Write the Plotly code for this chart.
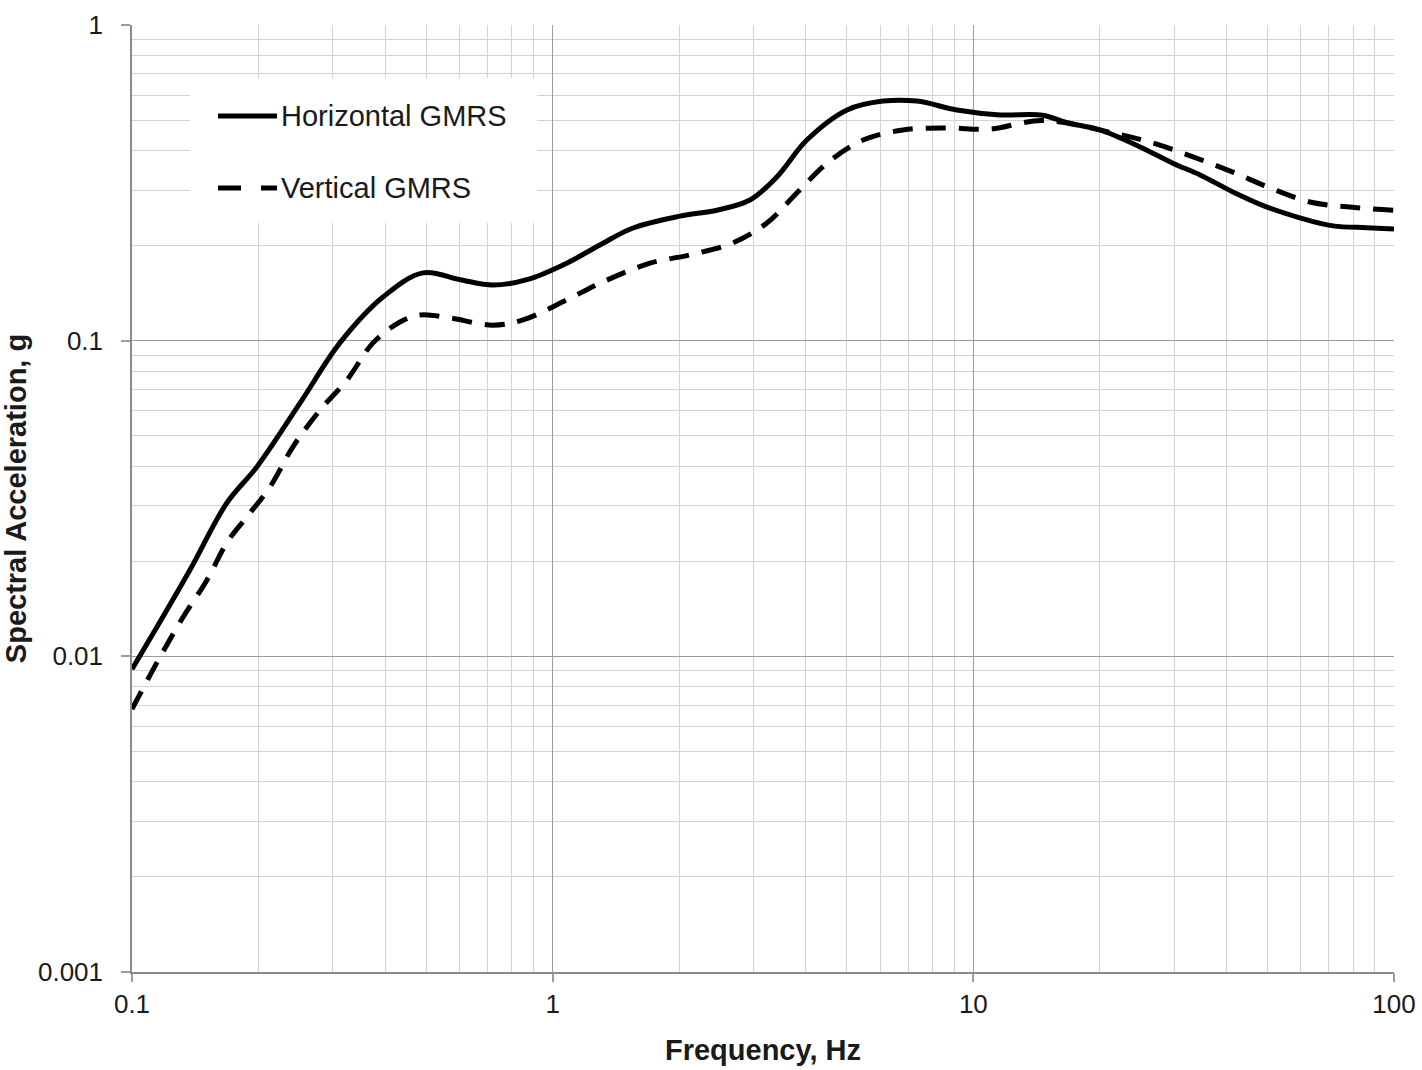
import plotly.graph_objects as go

# ---- data ----
freq_h = [0.1, 0.1147, 0.1374, 0.168, 0.198, 0.251, 0.312, 0.395, 0.492, 0.602,
          0.721, 0.869, 1.08, 1.295, 1.552, 2.007, 2.457, 2.944, 3.41, 4.02,
          5.01, 6.10, 7.34, 9.14, 11.57, 14.6, 16.7, 20.0, 24.9, 29.8,
          34.6, 41.4, 49.9, 59.7, 71.6, 86.2, 100]
sa_h = [0.0091, 0.0124, 0.0188, 0.0306, 0.0398, 0.0635, 0.0984, 0.1375, 0.164, 0.156,
        0.150, 0.156, 0.176, 0.201, 0.2275, 0.248, 0.259, 0.279, 0.330, 0.432,
        0.538, 0.574, 0.574, 0.538, 0.519, 0.518, 0.490, 0.465, 0.411, 0.365,
        0.335, 0.296, 0.265, 0.245, 0.231, 0.228, 0.226]

freq_v = [0.1, 0.1166, 0.1322, 0.1508, 0.168, 0.1877, 0.2128, 0.2413, 0.280, 0.3245,
          0.374, 0.4336, 0.4837, 0.570, 0.721, 0.850, 1.08, 1.295, 1.703, 2.12,
          2.68, 3.23, 3.81, 4.49, 5.47, 6.80, 8.65, 10.95, 14.6, 21.5,
          26.7, 33.3, 41.4, 50.7, 63.1, 78.5, 100]
sa_v = [0.0068, 0.00996, 0.0133, 0.01746, 0.0229, 0.0277, 0.0344, 0.0461, 0.0603, 0.0751,
        0.0984, 0.1146, 0.1206, 0.118, 0.112, 0.1163, 0.1346, 0.152, 0.176, 0.187,
        0.204, 0.236, 0.294, 0.365, 0.432, 0.465, 0.472, 0.468, 0.498, 0.455,
        0.423, 0.382, 0.342, 0.305, 0.275, 0.265, 0.259]

series_names = ["Horizontal GMRS", "Vertical GMRS"]

x_tickvals = [0.1, 1, 10, 100]
x_ticktext = ["0.1", "1", "10", "100"]
y_tickvals = [0.001, 0.01, 0.1, 1]
y_ticktext = ["0.001", "0.01", "0.1", "1"]

x_minor = [m * 10.0 ** e for e in range(-1, 2) for m in range(2, 10)]
y_minor = [m * 10.0 ** e for e in range(-3, 0) for m in range(2, 10)]

FONT = "Liberation Sans, Arial, sans-serif"
TXT = "#1a1a1a"
MAJOR = "#9c9c9c"
MINOR = "#d3d3d3"

W, H = 1422, 1070
L, R, T, B = 132, 28, 25, 98
PW, PH = W - L - R, H - T - B


def px_x(p):
    return (p - L) / PW


def px_y(p):
    return (H - B - p) / PH


DASH = "23px,20px"

fig = go.Figure()
fig.add_trace(go.Scatter(
    x=freq_h, y=sa_h, mode="lines", name=series_names[0],
    line=dict(color="black", width=5, shape="spline", smoothing=1.0),
))
fig.add_trace(go.Scatter(
    x=freq_v, y=sa_v, mode="lines", name=series_names[1],
    line=dict(color="black", width=5, dash="20px,13px", shape="spline", smoothing=1.0),
))

# legend: white box covering the grid, sample lines and labels
fig.add_shape(type="rect", xref="paper", yref="paper",
              x0=px_x(190), x1=px_x(537), y0=px_y(223), y1=px_y(78),
              fillcolor="white", line=dict(width=0), layer="above")
for i, (name, yy) in enumerate(zip(series_names, [116, 188])):
    fig.add_shape(type="line", xref="paper", yref="paper",
                  x0=px_x(218), x1=px_x(277), y0=px_y(yy), y1=px_y(yy),
                  line=dict(color="black", width=5, dash="solid" if i == 0 else DASH),
                  layer="above")
    fig.add_annotation(x=px_x(279), y=px_y(yy), xref="paper", yref="paper",
                       text=name, showarrow=False, xanchor="left", yanchor="middle",
                       font=dict(family=FONT, size=29, color=TXT))

fig.update_layout(
    width=W, height=H,
    margin=dict(l=L, r=R, t=T, b=B, autoexpand=False),
    paper_bgcolor="white", plot_bgcolor="white",
    font=dict(family=FONT, color=TXT, size=26),
    showlegend=False,
)

fig.update_xaxes(
    type="log", range=[-1, 2], automargin=False,
    tickmode="array", tickvals=x_tickvals, ticktext=x_ticktext,
    ticks="outside", ticklen=8, tickcolor=MAJOR, tickwidth=1.5,
    tickfont=dict(size=26, family=FONT, color=TXT),
    showline=True, linecolor="#8a8a8a", linewidth=1.5,
    showgrid=True, gridcolor=MAJOR, gridwidth=1.3,
    minor=dict(tickmode="array", tickvals=x_minor, showgrid=True,
               gridcolor=MINOR, gridwidth=1.3, ticks=""),
    zeroline=False,
    title=dict(text="<b>Frequency, Hz</b>", font=dict(size=29, family=FONT, color=TXT),
               standoff=22),
)
fig.update_yaxes(
    type="log", range=[-3, 0], automargin=False,
    tickmode="array", tickvals=y_tickvals, ticktext=y_ticktext,
    ticks="outside", ticklen=9, tickcolor=MAJOR, tickwidth=1.5,
    tickfont=dict(size=26, family=FONT, color=TXT),
    ticklabelstandoff=13,
    showline=True, linecolor="#8a8a8a", linewidth=1.5,
    showgrid=True, gridcolor=MAJOR, gridwidth=1.3,
    minor=dict(tickmode="array", tickvals=y_minor, showgrid=True,
               gridcolor=MINOR, gridwidth=1.3, ticks=""),
    zeroline=False,
    title=dict(text="<b>Spectral Acceleration, g</b>", font=dict(size=29, family=FONT, color=TXT),
               standoff=8),
)

fig.write_html("out.html", config={"displayModeBar": False},
               post_script="document.body.style.margin='0';document.body.style.overflow='hidden';")
